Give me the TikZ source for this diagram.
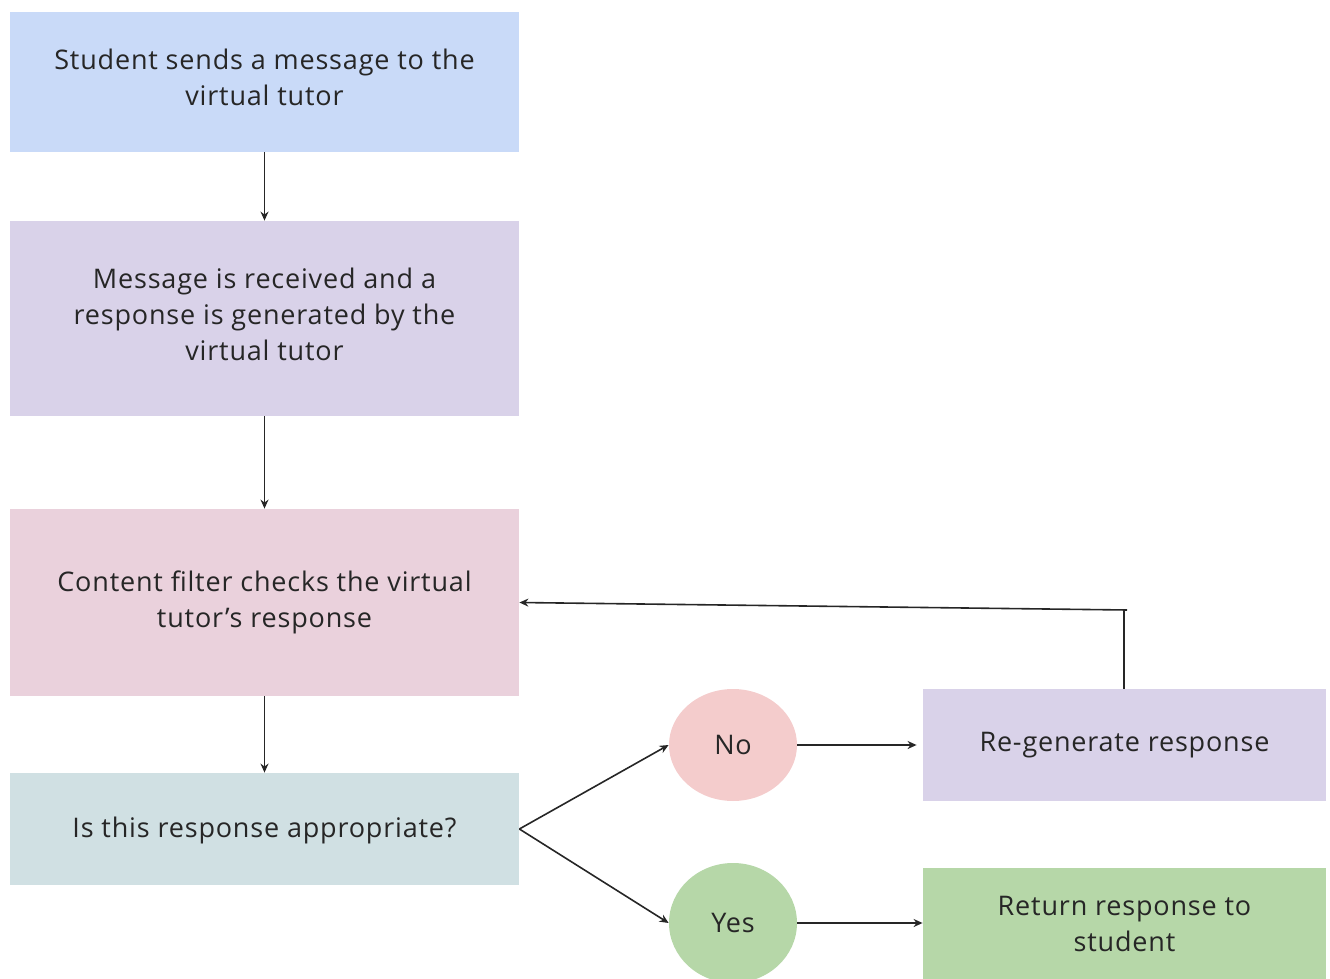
\documentclass[tikz,border=0pt]{standalone}
\usepackage{fontspec}
\setmainfont[LetterSpace=3]{Open Sans}
\usetikzlibrary{arrows.meta,shapes.geometric}
\definecolor{cblue}{HTML}{C9DAF8}
\definecolor{cpurple}{HTML}{D9D2E9}
\definecolor{cpink}{HTML}{EAD1DC}
\definecolor{cteal}{HTML}{D0E0E3}
\definecolor{cred}{HTML}{F4CCCC}
\definecolor{cgreen}{HTML}{B6D7A8}
\tikzset{
  box/.style={rectangle, inner sep=0pt, align=center, font=\fontsize{13.5}{18}\selectfont, text=black!85},
  txt/.style={inner sep=0pt, align=center, font=\fontsize{13.5}{18}\selectfont, text=black!85},
  oval/.style={ellipse, inner sep=0pt, font=\fontsize{13.5}{18}\selectfont, text=black!85},
  conn/.style={draw=black!85, line width=0.8pt, -{Stealth[length=4.5pt,width=4pt]}},
  plain/.style={draw=black!85, line width=0.8pt},
}
\begin{document}
\begin{tikzpicture}[x=0.5pt,y=-0.5pt]
\useasboundingbox (0,0) rectangle (1330,979);
\clip (0,0) rectangle (1330,979);
\node[box, fill=cblue, minimum width=254.5pt, minimum height=70pt] (s) at (264.5,82) {};
\node[txt] (stext) at (264.5,77) {Student sends a message to the\\virtual tutor};
\node[box, fill=cpurple, minimum width=254.5pt, minimum height=97.5pt] (m) at (264.5,318.5) {};
\node[txt] (mtext) at (264.5,314) {Message is received and a\\response is generated by the\\virtual tutor};
\node[box, fill=cpink, minimum width=254.5pt, minimum height=93.5pt] (c) at (264.5,602.5) {};
\node[txt] (ctext) at (264.5,602) {Content filter checks the virtual\\tutor’s response};
\node[box, fill=cteal, minimum width=254.5pt, minimum height=56pt] (q) at (264.5,829) {};
\node[txt] (qtext) at (264.5,830) {Is this response appropriate?};
\node[oval, fill=cred, minimum width=64pt, minimum height=56pt] (no) at (733,745) {No};
\node[oval, fill=cgreen, minimum width=64pt, minimum height=60pt] (yes) at (733,923) {Yes};
\node[box, fill=cpurple, minimum width=201.5pt, minimum height=56pt] (r) at (1124.5,745) {};
\node[txt] (rtext) at (1124.5,745) {Re-generate response};
\node[box, fill=cgreen, minimum width=201.5pt, minimum height=60pt] (retbox) at (1124.5,928) {};
\node[txt] (rettext) at (1124.5,924) {Return response to\\student};
\coordinate (corner) at (1124,610);
\coordinate (cend) at (1127,610);
\draw[conn] (s.south) -- (m.north);
\draw[conn] (m.south) -- (c.north);
\draw[conn] (c.south) -- (q.north);
\draw[conn] (q.east) -- (no.west);
\draw[conn] (q.east) -- (yes.west);
\draw[conn] (no.east) -- ([xshift=-3pt]r.west);
\draw[conn] (yes.east) -- (yes.east -| retbox.west);
\draw[plain] (r.north -| corner) -- (corner);
\draw[conn] (cend) -- (c.east);
\end{tikzpicture}
\end{document}
